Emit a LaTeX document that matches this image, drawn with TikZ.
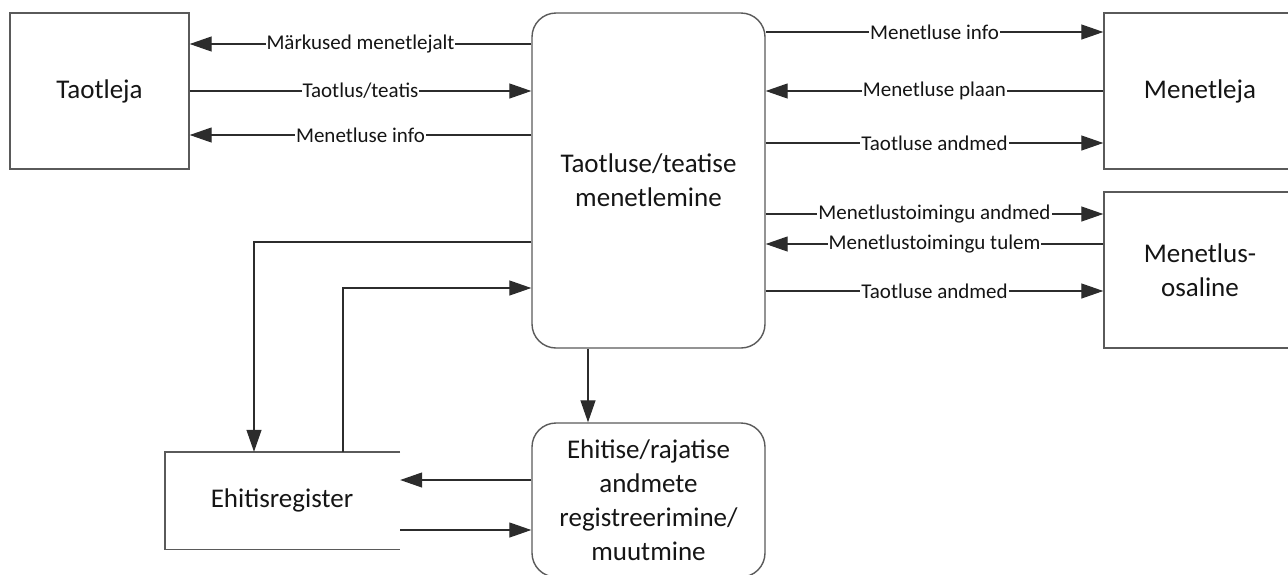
\documentclass[tikz,border=0pt]{standalone}
\usepackage{fontspec}
\setmainfont{Carlito}
\usetikzlibrary{arrows.meta}
\definecolor{edge}{HTML}{5A5A5A}
\definecolor{ink}{HTML}{151515}
\begin{document}
\begin{tikzpicture}[x=1pt,y=-1pt,
  box/.style={draw=edge,line width=1.4pt,fill=white,inner sep=0pt,align=center,
    font=\fontsize{27}{34}\selectfont,text=ink},
  rbox/.style={box,rounded corners=24pt},
  arr/.style={draw=ink!90,line width=1.2pt,-{Triangle[length=22pt,width=15pt]}},
  lbl/.style={fill=white,inner sep=1pt,font=\fontsize{21}{23}\selectfont,text=ink}]
\useasboundingbox (0,0) rectangle (1288,574);
\clip (0,0) rectangle (1288,574);

% boxes
\node[box,minimum width=179pt,minimum height=156pt] (tl) at (99.5,91) {Taotleja};
\node[rbox,minimum width=233pt,minimum height=335pt] (main) at (648.5,180.5) {Taotluse/teatise\\menetlemine};
\node[box,minimum width=220pt,minimum height=156pt] (mj) at (1214,91) {};
\node[font=\fontsize{27}{34}\selectfont,text=ink] at (1200,91) {Menetleja};
\node[box,minimum width=220pt,minimum height=156pt] (os) at (1214,270) {};
\node[font=\fontsize{27}{34}\selectfont,text=ink,align=center] at (1200,270) {Menetlus-\\osaline};
\node[minimum width=235pt,minimum height=97pt,inner sep=0pt] (reg) at (282.5,500.5) {};
\node[font=\fontsize{27}{34}\selectfont,text=ink] at (282,500) {Ehitisregister};
\draw[edge,line width=1.4pt] (reg.north east) -- (reg.north west) -- (reg.south west) -- (reg.south east);
\node[rbox,minimum width=233pt,minimum height=154pt] (proc) at (648.5,500) {Ehitise/rajatise\\andmete\\registreerimine/\\muutmine};

% Taotleja <-> menetlemine
\draw[arr] (main.west |- 0,44) -- (tl.east |- 0,44) node[lbl,midway] {Märkused menetlejalt};
\draw[arr] (tl.east |- 0,91) -- (main.west |- 0,91) node[lbl,midway] {Taotlus/teatis};
\draw[arr] (main.west |- 0,135) -- (tl.east |- 0,135) node[lbl,midway] {Menetluse info};

% menetlemine <-> Menetleja
\draw[arr] (main.east |- 0,32) -- (mj.west |- 0,32) node[lbl,midway] {Menetluse info};
\draw[arr] (mj.west |- 0,91) -- (main.east |- 0,91) node[lbl,midway] {Menetluse plaan};
\draw[arr] (main.east |- 0,143) -- (mj.west |- 0,143) node[lbl,midway] {Taotluse andmed};

% menetlemine <-> Menetlusosaline
\draw[arr] (main.east |- 0,214) -- (os.west |- 0,214) node[lbl,midway] {Menetlustoimingu andmed};
\draw[arr] (os.west |- 0,244) -- (main.east |- 0,244) node[lbl,midway] {Menetlustoimingu tulem};
\draw[arr] (main.east |- 0,291) -- (os.west |- 0,291) node[lbl,midway] {Taotluse andmed};

% menetlemine <-> Ehitisregister
\draw[arr] (main.west |- 0,242) -| (254,0 |- reg.north);
\draw[arr] (343,0 |- reg.north) |- (main.west |- 0,288);

% menetlemine -> registreerimine
\draw[arr] (588,0 |- main.south) -- (588,0 |- proc.north);

% registreerimine <-> Ehitisregister
\draw[arr] (proc.west |- 0,480) -- (reg.east |- 0,480);
\draw[arr] (reg.east |- 0,530) -- (proc.west |- 0,530);
\end{tikzpicture}
\end{document}
